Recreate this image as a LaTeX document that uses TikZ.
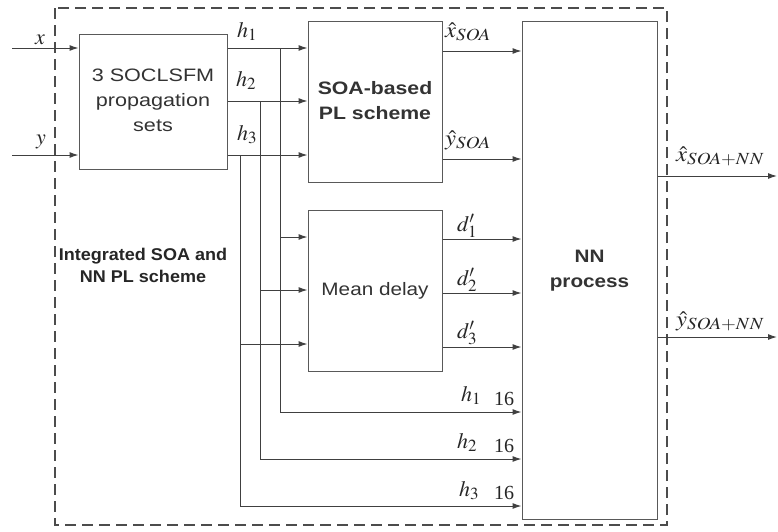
\documentclass[tikz,border=0pt]{standalone}
\usepackage{graphicx}
\usepackage{mathptmx}
\usepackage{fontspec}
\setmainfont{Liberation Serif}
\setsansfont{Liberation Sans}
\DeclareMathSizes{22}{22}{17}{14}
\usetikzlibrary{arrows.meta}
\newcommand\stretchtext[2]{\scalebox{#1}[1]{\begin{tabular}{@{}c@{}}#2\end{tabular}}}
\begin{document}
\begin{tikzpicture}[x=1pt,y=-1pt,
  box/.style={draw=black!65, line width=1pt, fill=white, align=center, inner sep=0pt,
    text=black!80, font=\sffamily\fontsize{18}{25}\selectfont},
  boldbox/.style={box, font=\sffamily\bfseries\fontsize{18}{25}\selectfont},
  arr/.style={draw=black!75, line width=1pt, -{Latex[length=9pt,width=6pt]}},
  lab/.style={font=\fontsize{22}{24}\selectfont, inner sep=0pt, text=black!85, anchor=base west},
  num/.style={font=\fontsize{20}{22}\selectfont, inner sep=0pt, text=black!85, anchor=base west},
  sflab/.style={font=\sffamily\bfseries\fontsize{17}{22}\selectfont, text=black!85, align=center}]
\useasboundingbox (0,0) rectangle (778,531);
\fill[white] (0,0) rectangle (778,531);
% outer dashed frame
\draw[draw=black!70, line width=1.3pt, dash pattern=on 11pt off 6pt] (55,8) rectangle (667,525);
% boxes
\node[box, minimum width=148, minimum height=135] (prop) at (153,101.5) {\stretchtext{1.2}{3 SOCLSFM\\propagation\\sets}};
\node[boldbox, minimum width=134, minimum height=161] (soa) at (375,101.5) {\stretchtext{1.18}{SOA-based\\PL scheme}};
\node[box, minimum width=134, minimum height=161] (md) at (375,290.5) {\stretchtext{1.15}{Mean delay}};
\node[boldbox, minimum width=135, minimum height=498] (nn) at (589.5,270) {\stretchtext{1.15}{NN\\process}};
\node[sflab] (title) at (143,267.5) {\stretchtext{1.06}{Integrated SOA and\\NN PL scheme}};
% coordinates
\coordinate (xin) at (12,48);
\coordinate (yin) at (12,155);
\coordinate (b1) at (280,48);
\coordinate (b2) at (260,101);
\coordinate (b3) at (240,155);
\coordinate (m1) at (280,237);
\coordinate (m2) at (260,290);
\coordinate (m3) at (240,344);
\coordinate (e1) at (280,412);
\coordinate (e2) at (260,459);
\coordinate (e3) at (240,506);
\coordinate (xo) at (777,176);
\coordinate (yo) at (777,337);
% inputs
\draw[arr] (xin) -- (prop.west |- xin);
\draw[arr] (yin) -- (prop.west |- yin);
\node[lab] (xl) at (35,44) {$x$};
\node[lab] (yl) at (36,144) {$y$};
% h lines into SOA
\draw[arr] (prop.east |- b1) -- (soa.west |- b1);
\draw[arr] (prop.east |- b2) -- (soa.west |- b2);
\draw[arr] (prop.east |- b3) -- (soa.west |- b3);
\node[lab] (h1l) at (237,37) {$h_1$};
\node[lab] (h2l) at (236,86) {$h_2$};
\node[lab] (h3l) at (237,140) {$h_3$};
% verticals and bottom lines
\draw[arr] (b1) |- (nn.west |- e1);
\draw[arr] (b2) |- (nn.west |- e2);
\draw[arr] (b3) |- (nn.west |- e3);
% mean delay inputs
\draw[arr] (m1) -- (md.west |- m1);
\draw[arr] (m2) -- (md.west |- m2);
\draw[arr] (m3) -- (md.west |- m3);
% SOA outputs
\draw[arr] (soa.east |- 0,51) coordinate (so1) -- (nn.west |- so1);
\draw[arr] (soa.east |- 0,159) coordinate (so2) -- (nn.west |- so2);
\node[lab] (xsoa) at (445,37) {\scalebox{1.12}[1]{$\hat{x}_{SOA}$}};
\node[lab] (ysoa) at (445,145) {\scalebox{1.12}[1]{$\hat{y}_{SOA}$}};
% mean delay outputs
\draw[arr] (md.east |- 0,239) coordinate (d1) -- (nn.west |- d1);
\draw[arr] (md.east |- 0,293) coordinate (d2) -- (nn.west |- d2);
\draw[arr] (md.east |- 0,347) coordinate (d3) -- (nn.west |- d3);
\node[lab] (d1l) at (457,231) {$d'_1$};
\node[lab] (d2l) at (457,285) {$d'_2$};
\node[lab] (d3l) at (457,338) {$d'_3$};
% bottom labels
\node[lab] (bh1) at (461,401) {$h_1$};
\node[lab] (bh2) at (457,448) {$h_2$};
\node[lab] (bh3) at (459,496) {$h_3$};
\node[num] (n1) at (494,405) {16};
\node[num] (n2) at (494,452) {16};
\node[num] (n3) at (494,499) {16};
% NN outputs
\draw[arr] (nn.east |- xo) -- (xo);
\draw[arr] (nn.east |- yo) -- (yo);
\node[lab] (xnn) at (676,161) {\scalebox{1.12}[1]{$\hat{x}_{SOA+NN}$}};
\node[lab] (ynn) at (676,326) {\scalebox{1.12}[1]{$\hat{y}_{SOA+NN}$}};
\end{tikzpicture}
\end{document}
